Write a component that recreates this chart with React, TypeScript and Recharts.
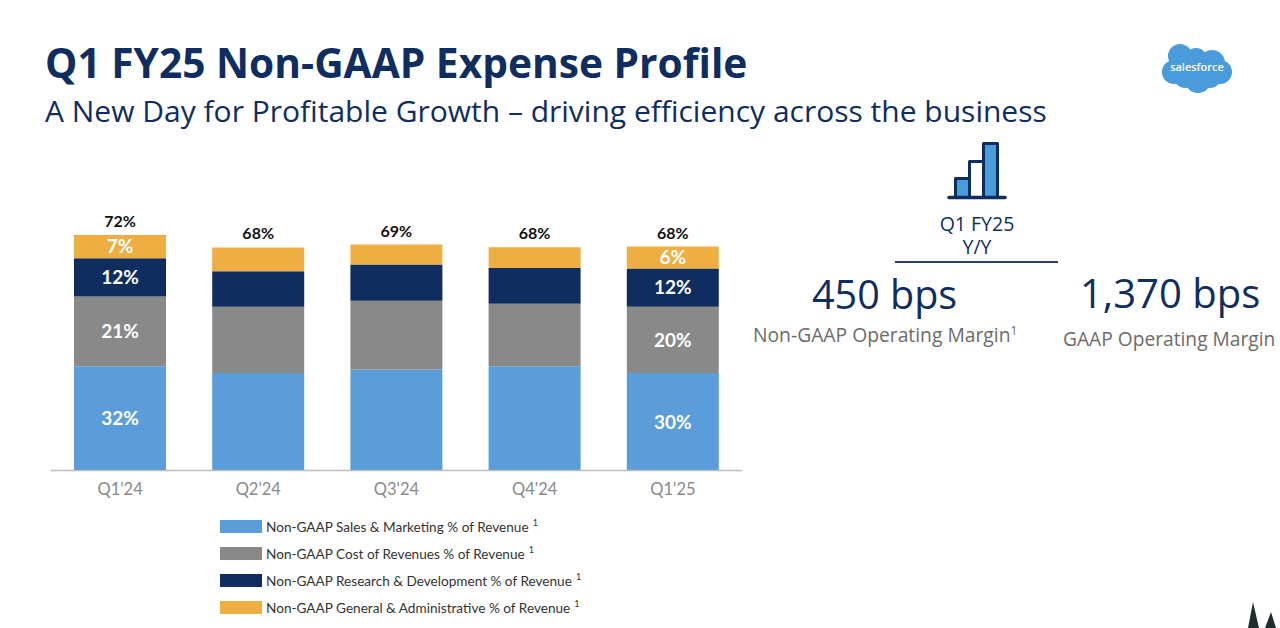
import React from 'react'
import { BarChart, Bar, XAxis, YAxis, Legend, LabelList } from 'recharts'

const quarters = ["Q1'24", "Q2'24", "Q3'24", "Q4'24", "Q1'25"]
const salesMarketing = [31.9, 29.8, 30.9, 31.9, 29.8]
const costOfRevenues = [21.3, 20.3, 21.0, 19.1, 20.3]
const researchDev = [11.7, 10.8, 11.1, 10.9, 11.7]
const generalAdmin = [7.1, 7.3, 6.1, 6.4, 6.7]
const totalLabels = [72, 68, 69, 68, 68]
const salesLabels = [32, null, null, null, 30]
const costLabels = [21, null, null, null, 20]
const researchLabels = [12, null, null, null, 12]
const adminLabels = [7, null, null, null, 6]

const data = quarters.map((q, i) => ({
  q,
  sales: salesMarketing[i],
  cost: costOfRevenues[i],
  research: researchDev[i],
  admin: generalAdmin[i],
  total: totalLabels[i],
  salesLabel: salesLabels[i],
  costLabel: costLabels[i],
  researchLabel: researchLabels[i],
  adminLabel: adminLabels[i],
}))

const NAVY = '#0F2D5E'
const LATO = 'Lato, sans-serif'
const SANS = '"Open Sans", sans-serif'

const pct = (v: any) => (v === null || v === undefined ? '' : `${v}%`)
const whiteLabel = { fill: '#fff', fontFamily: LATO, fontWeight: 700, fontSize: 19 }

const text = (style: React.CSSProperties): React.CSSProperties => ({
  position: 'absolute',
  whiteSpace: 'nowrap',
  fontFamily: SANS,
  color: NAVY,
  lineHeight: 1,
  ...style,
})

const LegendRows = ({ payload }: any) => (
  <div style={{ fontFamily: LATO, fontSize: 13.6, color: '#333' }}>
    {(payload || []).map((item: any) => (
      <div key={item.value} style={{ display: 'flex', alignItems: 'center', height: 27 }}>
        <span style={{ width: 42, height: 13.5, background: item.color, marginRight: 4 }} />
        <span>{item.value}</span>
        <sup style={{ fontSize: 9, marginLeft: 4, position: 'relative', top: -4 }}>1</sup>
      </div>
    ))}
  </div>
)

const Logo = () => (
  <svg width={80} height={60} style={{ position: 'absolute', left: 1157, top: 39 }}>
    <g fill="#4A9BDC">
      <circle cx={23} cy={17} r={12} />
      <circle cx={39} cy={20} r={11} />
      <circle cx={55} cy={24} r={13} />
      <circle cx={63} cy={33} r={12} />
      <circle cx={17} cy={33} r={12} />
      <circle cx={28} cy={38} r={11} />
      <circle cx={41} cy={41} r={13} />
      <circle cx={53} cy={38} r={11} />
      <circle cx={40} cy={30} r={14} />
    </g>
    <text x={40} y={32} textAnchor="middle" fill="#fff" fontFamily={SANS} fontSize={11} fontWeight={600}>
      salesforce
    </text>
  </svg>
)

const BarIcon = () => (
  <svg width={64} height={62} style={{ position: 'absolute', left: 945, top: 140 }}>
    <g stroke={NAVY} strokeWidth={3} strokeLinejoin="round">
      <rect x={10.5} y={38.5} width={14} height={19} fill="#4A9BDC" />
      <rect x={24.5} y={21.5} width={14} height={36} fill="#fff" />
      <rect x={38.5} y={3.5} width={14} height={54} fill="#4A9BDC" />
    </g>
    <line x1={4} y1={57.5} x2={60} y2={57.5} stroke={NAVY} strokeWidth={3.5} strokeLinecap="round" />
  </svg>
)

const Corner = () => (
  <svg width={40} height={26} style={{ position: 'absolute', left: 1240, top: 602 }}>
    <polygon points="13,0 8,26 19,26" fill="#1E2E2E" />
    <polygon points="31,10 25,26 36,26" fill="#1E2E2E" />
  </svg>
)

export default function App() {
  return (
    <div style={{ position: 'absolute', left: 0, top: 0, width: 1280, height: 628, background: '#fff', overflow: 'hidden' }}>
      <div style={text({ left: 45, top: 42, fontSize: 40.7, fontWeight: 700 })}>Q1 FY25 Non-GAAP Expense Profile</div>
      <div style={text({ left: 45, top: 96, fontSize: 30 })}>
        A New Day for Profitable Growth – driving efficiency across the business
      </div>

      <BarChart
        width={1280}
        height={628}
        data={data}
        barCategoryGap={23}
        margin={{ top: 143.5, right: 538, left: 51, bottom: 127.5 }}
        style={{ position: 'absolute', left: 0, top: 0 }}
      >
        <XAxis
          dataKey="q"
          height={30}
          tickLine={false}
          interval={0}
          tickMargin={7}
          axisLine={{ stroke: '#BDBDBD', strokeWidth: 1.5 }}
          tick={{ fill: '#8A8A8A', fontFamily: LATO, fontSize: 16.5 }}
        />
        <YAxis hide domain={[0, 100]} />
        <Bar dataKey="sales" name="Non-GAAP Sales & Marketing % of Revenue" stackId="a" fill="#5A9DDA" isAnimationActive={false}>
          <LabelList dataKey="salesLabel" position="center" formatter={pct} style={whiteLabel} />
        </Bar>
        <Bar dataKey="cost" name="Non-GAAP Cost of Revenues % of Revenue" stackId="a" fill="#898989" isAnimationActive={false}>
          <LabelList dataKey="costLabel" position="center" formatter={pct} style={whiteLabel} />
        </Bar>
        <Bar dataKey="research" name="Non-GAAP Research & Development % of Revenue" stackId="a" fill={NAVY} isAnimationActive={false}>
          <LabelList dataKey="researchLabel" position="center" formatter={pct} style={whiteLabel} />
        </Bar>
        <Bar dataKey="admin" name="Non-GAAP General & Administrative % of Revenue" stackId="a" fill="#EFAE41" isAnimationActive={false}>
          <LabelList dataKey="adminLabel" position="center" formatter={pct} style={whiteLabel} />
          <LabelList
            dataKey="total"
            position="top"
            offset={8}
            formatter={pct}
            style={{ fill: '#111', fontFamily: LATO, fontWeight: 700, fontSize: 16 }}
          />
        </Bar>
        <Legend
          layout="vertical"
          align="center"
          verticalAlign="middle"
          itemSorter={null}
          content={<LegendRows />}
          wrapperStyle={{ left: 220, top: 513, width: 420 }}
        />
      </BarChart>

      <Logo />
      <BarIcon />
      <Corner />

      <div style={text({ left: 877, width: 200, textAlign: 'center', top: 213, fontSize: 19.5, lineHeight: '22.5px' })}>
        Q1 FY25
        <br />
        Y/Y
      </div>
      <div style={{ position: 'absolute', left: 895, top: 261, width: 163, height: 1.5, background: '#2B3F72' }} />

      <div style={text({ left: 812, top: 275, fontSize: 39.5 })}>450 bps</div>
      <div style={text({ left: 1080, top: 273, fontSize: 40 })}>1,370 bps</div>
      <div style={text({ left: 753, top: 325, fontSize: 19.3, color: '#6B6B6B' })}>
        Non-GAAP Operating Margin<sup style={{ fontSize: 12, lineHeight: 0 }}>1</sup>
      </div>
      <div style={text({ left: 1063, top: 329, fontSize: 19.2, color: '#6B6B6B' })}>GAAP Operating Margin</div>
    </div>
  )
}
